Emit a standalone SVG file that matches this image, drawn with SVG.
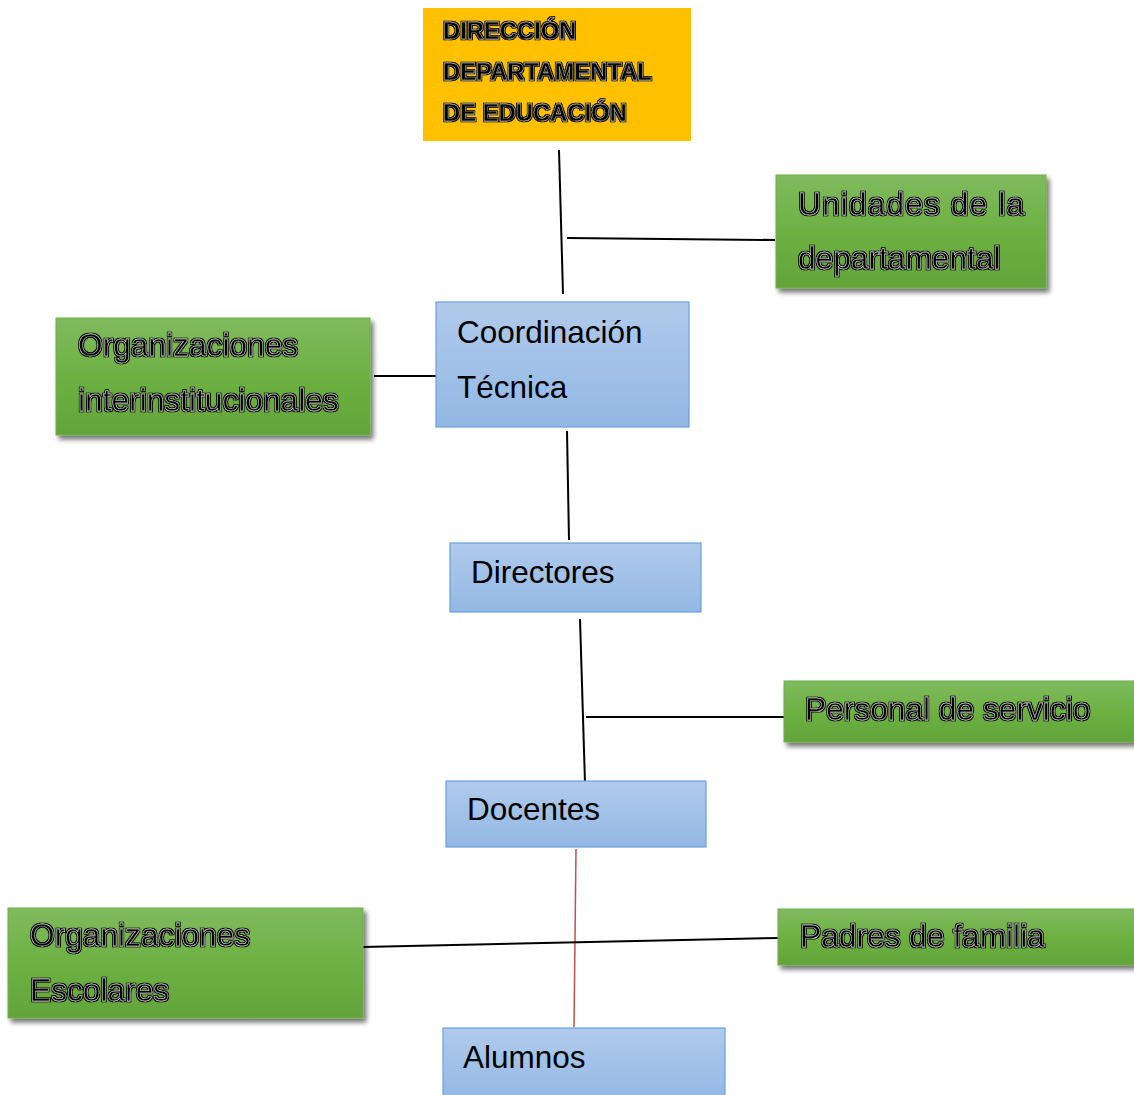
<svg xmlns="http://www.w3.org/2000/svg" width="1134" height="1095" viewBox="0 0 1134 1095">
<defs>
<linearGradient id="gGreen" x1="0" y1="0" x2="0" y2="1">
<stop offset="0" stop-color="#80BA5F"/>
<stop offset="0.5" stop-color="#6DB142"/>
<stop offset="1" stop-color="#62A43A"/>
</linearGradient>
<linearGradient id="gBlue" x1="0" y1="0" x2="0" y2="1">
<stop offset="0" stop-color="#B0CAEB"/>
<stop offset="1" stop-color="#93B8E4"/>
</linearGradient>
<filter id="shadow" x="-10%" y="-20%" width="125%" height="150%">
<feGaussianBlur in="SourceAlpha" stdDeviation="2.5"/>
<feOffset dx="3" dy="4" result="b"/>
<feComponentTransfer><feFuncA type="linear" slope="0.55"/></feComponentTransfer>
<feMerge><feMergeNode/><feMergeNode in="SourceGraphic"/></feMerge>
</filter>
<filter id="halo" x="-5%" y="-20%" width="110%" height="140%">
<feMorphology in="SourceAlpha" operator="dilate" radius="1.3" result="d"/>
<feFlood flood-color="#000"/>
<feComposite in2="d" operator="in"/>
<feMerge><feMergeNode/><feMergeNode in="SourceGraphic"/></feMerge>
</filter>
</defs>
<style>
.green{fill:url(#gGreen);stroke:#71AE48;stroke-width:1;filter:url(#shadow)}
.blue{fill:url(#gBlue);stroke:#6C9FDC;stroke-width:1.2}
.t{font-family:"Liberation Sans",Arial,sans-serif;font-size:31.5px;fill:#000}
.o{font-family:"Liberation Sans",Arial,sans-serif;font-size:31.7px;fill:#000;stroke:#eee;stroke-width:0.4;filter:url(#halo)}
.ob{font-family:"Liberation Sans",Arial,sans-serif;font-size:23.8px;font-weight:bold;fill:#000;stroke:#ddd;stroke-width:0.35;filter:url(#halo)}
.c{stroke:#000;stroke-width:2;fill:none}
</style>
<rect width="1134" height="1095" fill="#fff"/>
<g id="connectors">
<line class="c" x1="559" y1="150" x2="563" y2="294"/>
<line class="c" x1="567" y1="238" x2="775" y2="240"/>
<line class="c" x1="374" y1="376" x2="436" y2="376"/>
<line class="c" x1="567" y1="431" x2="569" y2="540"/>
<line class="c" x1="580" y1="619" x2="585" y2="783"/>
<line class="c" x1="586" y1="717" x2="788" y2="717"/>
<line x1="576" y1="849" x2="574" y2="1027" stroke="#C0504D" stroke-width="1.5"/>
<line class="c" x1="363" y1="947" x2="778" y2="938"/>
</g>
<g id="direccion">
<rect x="423" y="8" width="268" height="133" fill="#FFC000"/>
<text class="ob" x="443" y="39">DIRECCIÓN</text>
<text class="ob" x="443" y="80">DEPARTAMENTAL</text>
<text class="ob" x="443" y="121">DE EDUCACIÓN</text>
</g>
<g id="unidades">
<rect class="green" x="776" y="175" width="270" height="113"/>
<text class="o" x="798" y="215" textLength="226" lengthAdjust="spacing">Unidades de la</text>
<text class="o" x="798" y="269">departamental</text>
</g>
<g id="org-inter">
<rect class="green" x="56" y="318" width="314" height="117"/>
<text class="o" x="78" y="356">Organizaciones</text>
<text class="o" x="78" y="411">interinstitucionales</text>
</g>
<g id="coordinacion">
<rect class="blue" x="436" y="302" width="253" height="125"/>
<text class="t" x="457" y="343">Coordinación</text>
<text class="t" x="457" y="398">Técnica</text>
</g>
<g id="directores">
<rect class="blue" x="450" y="543" width="251" height="69"/>
<text class="t" x="471" y="583">Directores</text>
</g>
<g id="personal">
<rect class="green" x="784" y="681" width="354" height="61"/>
<text class="o" x="805" y="720">Personal de servicio</text>
</g>
<g id="docentes">
<rect class="blue" x="446" y="781" width="260" height="66"/>
<text class="t" x="467" y="820">Docentes</text>
</g>
<g id="org-escolares">
<rect class="green" x="8" y="908" width="355" height="110"/>
<text class="o" x="30" y="946">Organizaciones</text>
<text class="o" x="30" y="1001">Escolares</text>
</g>
<g id="padres">
<rect class="green" x="778" y="909" width="360" height="56"/>
<text class="o" x="800" y="947">Padres de familia</text>
</g>
<g id="alumnos">
<rect class="blue" x="443" y="1028" width="282" height="72"/>
<text class="t" x="463" y="1068">Alumnos</text>
</g>
</svg>
